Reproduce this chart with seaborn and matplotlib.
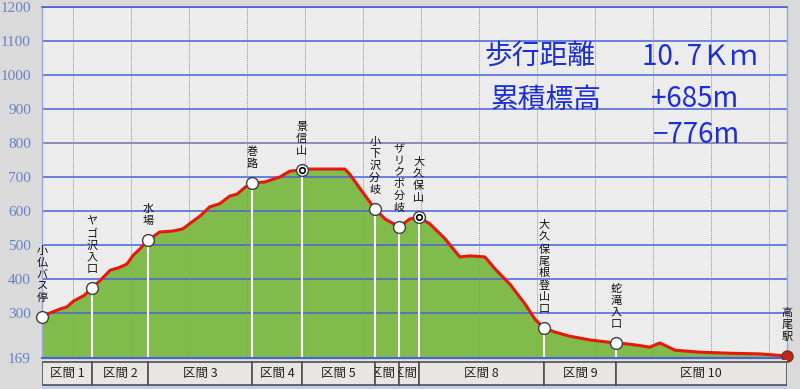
import numpy as np
import matplotlib
matplotlib.use("Agg")
import matplotlib.pyplot as plt
from matplotlib.patches import Rectangle
import seaborn as sns

# elevation profile (km, m)
dist_km = [0.00, 0.10, 0.26, 0.36, 0.45, 0.60, 0.72, 0.85, 0.98, 1.10, 1.22, 1.31, 1.40,
           1.52, 1.69, 1.88, 2.02, 2.15, 2.27, 2.41, 2.55, 2.70, 2.80, 2.92, 3.02, 3.20,
           3.42, 3.56, 3.73, 3.85, 4.35, 4.42, 4.57, 4.78, 4.93, 5.13, 5.28, 5.41, 5.57,
           5.79, 6.00, 6.15, 6.36, 6.51, 6.72, 6.94, 7.08, 7.21, 7.37, 7.58, 7.87, 8.24,
           8.42, 8.60, 8.73, 8.87, 8.94, 9.09, 9.45, 9.88, 10.31, 10.70]
elev_m = [289, 300, 313, 319, 336, 352, 374, 400, 427, 434, 445, 471, 488,
          515, 539, 542, 548, 568, 586, 613, 622, 645, 650, 671, 683, 686,
          701, 718, 721, 724, 724, 709, 666, 607, 577, 554, 577, 583, 563,
          519, 466, 469, 466, 430, 386, 327, 283, 257, 245, 233, 222, 213,
          210, 205, 201, 213, 207, 192, 186, 183, 181, 175]

# waypoints
wp_names = ["小仏バス停", "ヤゴ沢入口", "水場", "巻路", "景信山", "小下沢分岐",
            "ザリクボ分岐", "大久保山", "大久保尾根登山口", "蛇滝入口", "高尾駅"]
wp_dist = [0.00, 0.72, 1.52, 3.02, 3.73, 4.78, 5.13, 5.41, 7.21, 8.24, 10.70]
wp_elev = [289, 374, 515, 683, 721, 607, 554, 583, 257, 213, 175]
wp_kind = ["o", "o", "o", "o", "peak", "o", "o", "peak", "o", "o", "goal"]

section_labels = ["区間 1", "区間 2", "区間 3", "区間 4", "区間 5", "区間 6",
                  "区間 7", "区間 8", "区間 9", "区間 10"]

y_ticks = [169, 300, 400, 500, 600, 700, 800, 900, 1000, 1100, 1200]

sns.set_theme(style="white")
plt.rcParams["font.family"] = ["Noto Sans CJK JP", "DejaVu Sans"]

fig = plt.figure(figsize=(8, 3.89), dpi=100, facecolor="#dadada")
ax = fig.add_axes([42 / 800, 1 - 358 / 389, 745 / 800, 351 / 389])
band = fig.add_axes([42 / 800, 0, 745 / 800, 29 / 389], sharex=ax)

ax.set_facecolor("#ececec")
ax.fill_between(dist_km, elev_m, 169, color="#80bb4c", lw=0, zorder=1)

# grid
for y in y_ticks[1:]:
    c = "#8c8cb8" if y == 800 else "#4a62d6"
    ax.axhline(y, color=c, lw=1.4 if y == 800 else 1.1, zorder=1.5)
for x in np.arange(0.445, 10.7, 0.833):
    ax.axvline(x, color="#7f8fd0", lw=0.7, ls=(0, (1, 1)), zorder=1.5)

# waypoint stems
for x, e in zip(wp_dist, wp_elev):
    ax.plot([x, x], [169, e], color="white", lw=1.5, zorder=2)

sns.lineplot(x=dist_km, y=elev_m, ax=ax, color="#e8180c", lw=2.2, zorder=3)

for name, x, e, k in zip(wp_names, wp_dist, wp_elev, wp_kind):
    if k == "goal":
        ax.plot(x, e, "o", ms=8, mfc="#c0281c", mec="#6a3a20", mew=1, zorder=5, clip_on=False)
    else:
        ax.plot(x, e, "o", ms=8.5, mfc="white", mec="#404040", mew=1, zorder=5, clip_on=False)
        if k == "peak":
            ax.plot(x, e, "o", ms=4, mfc="white", mec="black", mew=1.2, zorder=6)
    ax.annotate("\n".join(name), (x, e), xytext=(0, 10), textcoords="offset points",
                ha="center", va="bottom", fontsize=8, linespacing=1.22,
                color="#111111", zorder=7, annotation_clip=False)

ax.set_xlim(0, 10.7)
ax.set_ylim(169, 1200)
ax.set_yticks(y_ticks)
ax.set_yticklabels([str(v) for v in y_ticks], fontfamily="Liberation Serif",
                   fontsize=11, color="#6a80c8")
ax.tick_params(axis="y", length=0, pad=8)
ax.tick_params(axis="x", bottom=False, labelbottom=False)
for s in ["left", "right"]:
    ax.spines[s].set_color("#9aa6dc")
    ax.spines[s].set_linewidth(1)
ax.spines["top"].set_color("#4a62d6")
ax.spines["bottom"].set_color("#4a62d6")
ax.spines["bottom"].set_linewidth(1.5)

# summary text
kw = dict(transform=ax.transData, color="#1c2ed8", fontsize=20, va="baseline", zorder=8)
ax.text(6.35, 1030, "歩行距離", **kw)
ax.text(8.62, 1030, "10. 7Ｋｍ", **kw)
ax.text(6.45, 905, "累積標高", **kw)
ax.text(8.75, 905, "+685m", **kw)
ax.text(8.78, 800, "−776m", **kw)

# section band
band.set_facecolor("#e4e4e4")
band.set_ylim(0, 29)
band.add_patch(Rectangle((0, 0), 10.7, 4, color="#c4ccee", lw=0))
for i, lab in enumerate(section_labels):
    x0, x1 = wp_dist[i], wp_dist[i + 1]
    r = Rectangle((x0, 4), x1 - x0, 23, facecolor="#e8e6e2", edgecolor="#505050", lw=1.2)
    band.add_patch(r)
    t = band.text((x0 + x1) / 2, 15.5, lab, ha="center", va="center", fontsize=9, color="#222222")
    t.set_clip_on(True)
    t.set_clip_path(r)
band.set_yticks([])
band.tick_params(axis="x", bottom=False, labelbottom=False)
for s in band.spines.values():
    s.set_visible(False)

fig.savefig("out.png", dpi=100, facecolor=fig.get_facecolor())
